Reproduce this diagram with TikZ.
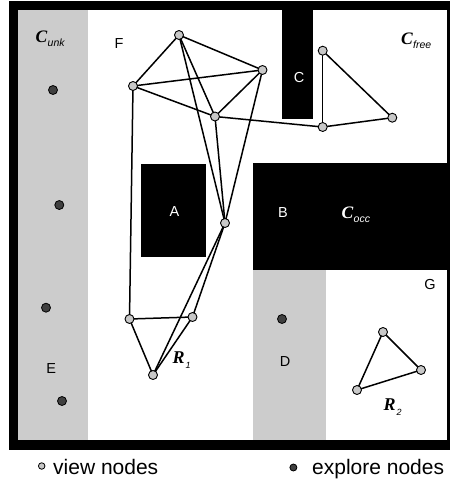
\documentclass[tikz,border=0pt]{standalone}
\usepackage{fontspec}
\setmainfont{Liberation Serif}
\setsansfont{Liberation Sans}

\definecolor{unkgray}{RGB}{204,204,204}
\definecolor{viewfill}{RGB}{200,200,200}
\definecolor{explorefill}{RGB}{64,64,64}

\pgfdeclarelayer{bg}
\pgfdeclarelayer{links}
\pgfsetlayers{bg,links,main}

% region name with a bold italic letter and a small italic sans subscript
\newcommand\regionname[2]{{\fontsize{17.5}{18}\selectfont\bfseries\itshape #1}\kern0.3pt\raisebox{-4pt}{\sffamily\itshape\fontsize{10.5}{12}\selectfont #2}}
% robot name
\newcommand\robotname[2]{{\fontsize{18}{18}\selectfont\bfseries\itshape #1}\kern0.8pt\raisebox{-5pt}{\sffamily\itshape\fontsize{9}{10}\selectfont #2}}

\tikzset{
  viewnode/.style={circle, draw=black, fill=viewfill, line width=0.9pt, minimum size=9pt, inner sep=0pt},
  explorenode/.style={circle, draw=black, fill=explorefill, line width=0.8pt, minimum size=9pt, inner sep=0pt},
  link/.style={line width=1.5pt, black},
  area/.style={font=\sffamily\fontsize{14.5}{14}\selectfont, inner sep=0pt},
  tag/.style={anchor=base west, inner sep=0pt},
  legend/.style={font=\sffamily\fontsize{21}{22}\selectfont, anchor=base west, inner sep=0pt},
}

\begin{document}
\begin{tikzpicture}[x=1pt,y=-1pt]
\useasboundingbox (0,0) rectangle (450,480);

% walls, obstacles and unknown space
\begin{pgfonlayer}{bg}
  \fill[black] (9,1) rectangle (450,450);
  \fill[white] (18,10) rectangle (447,440);
  \fill[unkgray] (18,10) rectangle (88,440);
  \fill[unkgray] (253,270) rectangle (326,440);
  \fill[black] (282,10) rectangle (313,119);
  \fill[black] (141,164) rectangle (206,257);
  \fill[black] (253,163) rectangle (447,270);
\end{pgfonlayer}

% area letters
\node[area] (la) at (174.5,211.7) {\textcolor{white}{A}};
\node[area] (lb) at (283,212.5) {\textcolor{white}{B}};
\node[area] (lc) at (299,77.5) {\textcolor{white}{C}};
\node[area] (ld) at (285,362) {D};
\node[area] (le) at (51.3,369) {E};
\node[area] (lf) at (119,44) {F};
\node[area] (lg) at (430,285) {G};

% space classes
\node[tag] (cunk) at (35.5,42.7) {\regionname{C}{unk}};
\node[tag] (cfree) at (401,44.3) {\regionname{C}{free}};
\node[tag, text=white] (cocc) at (341.5,218.5) {\regionname{C}{occ}};

% robots
\node[tag] (r1) at (172.5,363) {\robotname{R}{1}};
\node[tag] (r2) at (383.5,410) {\robotname{R}{2}};

% view nodes of R1
\node[viewnode] (n1) at (179,35) {};
\node[viewnode] (n2) at (133,86) {};
\node[viewnode] (n3) at (215,116.5) {};
\node[viewnode] (n4) at (262.5,70) {};
\node[viewnode] (n5) at (225,223) {};
\node[viewnode] (n6) at (129.5,319) {};
\node[viewnode] (n7) at (192.5,317) {};
\node[viewnode] (n8) at (153,375) {};
\node[viewnode] (n9) at (322.7,127) {};
\node[viewnode] (n10) at (322.7,50.7) {};
\node[viewnode] (n11) at (392.3,117.7) {};

% view nodes of R2
\node[viewnode] (m1) at (383,332) {};
\node[viewnode] (m2) at (421,370) {};
\node[viewnode] (m3) at (357,390) {};

% explore nodes
\node[explorenode] (e1) at (53,90) {};
\node[explorenode] (e2) at (59.3,205) {};
\node[explorenode] (e3) at (46,307.7) {};
\node[explorenode] (e4) at (62,401) {};
\node[explorenode] (e5) at (282,319) {};

% graph edges
\begin{pgfonlayer}{links}
  \draw[link] (n1.center) -- (n2.center);
  \draw[link] (n1.center) -- (n4.center);
  \draw[link] (n1.center) -- (n3.center);
  \draw[link] (n1.center) -- (n5.center);
  \draw[link] (n2.center) -- (n4.center);
  \draw[link] (n2.center) -- (n3.center);
  \draw[link] (n2.center) -- (n6.center);
  \draw[link] (n3.center) -- (n4.center);
  \draw[link] (n3.center) -- (n5.center);
  \draw[link] (n3.center) -- (n9.center);
  \draw[link] (n4.center) -- (n5.center);
  \draw[link] (n5.center) -- (n7.center);
  \draw[link] (n5.center) -- (n8.center);
  \draw[link] (n6.center) -- (n7.center);
  \draw[link] (n6.center) -- (n8.center);
  \draw[link] (n7.center) -- (n8.center);
  \draw[link] (n9.center) -- (n10.center);
  \draw[link] (n10.center) -- (n11.center);
  \draw[link] (n9.center) -- (n11.center);
  \draw[link] (m1.center) -- (m2.center);
  \draw[link] (m2.center) -- (m3.center);
  \draw[link] (m3.center) -- (m1.center);
\end{pgfonlayer}

% legend
\node[viewnode, minimum size=6.5pt, line width=0.8pt] (kv) at (41.7,466) {};
\node[legend] (tv) at (53,474) {view nodes};
\node[explorenode, minimum size=7pt] (ke) at (293.4,467.5) {};
\node[legend] (te) at (312,474) {explore nodes};
\end{tikzpicture}
\end{document}
